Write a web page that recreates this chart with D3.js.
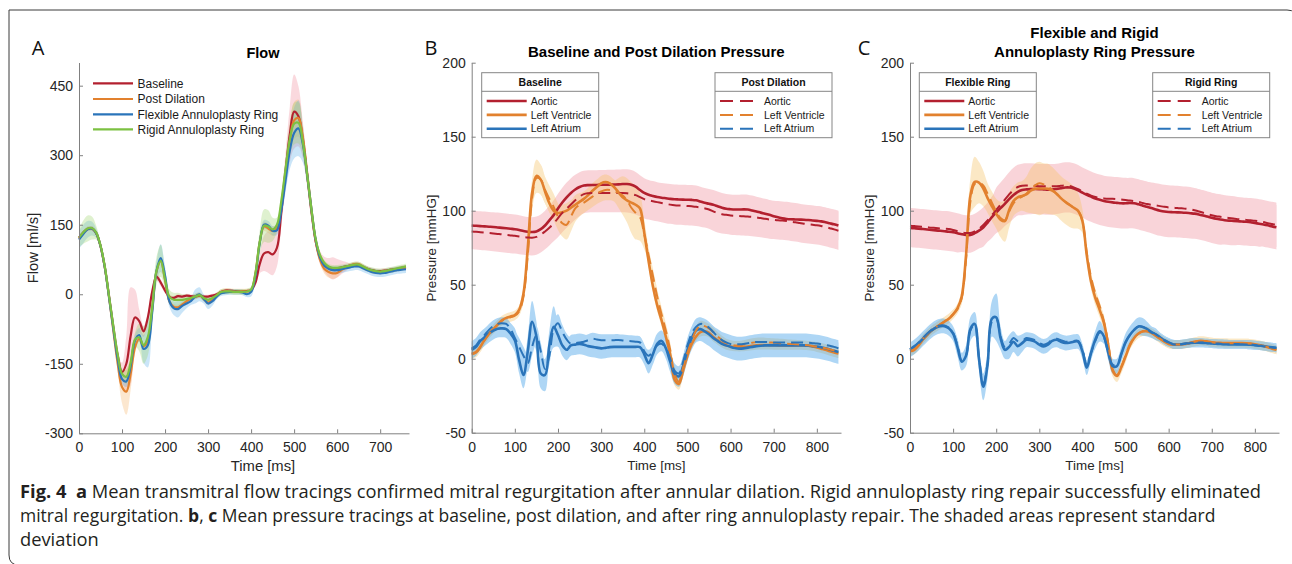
<!DOCTYPE html>
<html><head><meta charset="utf-8">
<script src="https://cdn.jsdelivr.net/npm/d3@7"></script>
<style>body{margin:0;background:#fff}svg{display:block}</style>
</head><body>
<script>
// ---------------- DATA ----------------
const flowTime = [0,10,20,30,40,50,60,70,80,90,100,110,120,130,140,150,160,170,180,190,200,210,220,230,240,250,260,270,280,290,300,310,320,330,340,350,360,370,380,390,400,410,420,430,440,450,460,470,480,490,500,510,520,530,540,550,560,570,580,590,600,610,620,630,640,650,660,670,680,690,700,710,720,730,740,750,760];
const pressTime = [0,10,20,30,40,50,60,70,80,90,100,110,120,130,140,150,160,170,180,190,200,210,220,230,240,250,260,270,280,290,300,310,320,330,340,350,360,370,380,390,400,410,420,430,440,450,460,470,480,490,500,510,520,530,540,550,560,570,580,590,600,610,620,630,640,650,660,670,680,690,700,710,720,730,740,750,760,770,780,790,800,810,820,830,840,850];

const flowXTicks = [0,100,200,300,400,500,600,700];
const flowYTicks = [-300,-150,0,150,300,450];
const pressXTicks = [0,100,200,300,400,500,600,700,800];
const pressYTicks = [-50,0,50,100,150,200];

const flowNames = ["Baseline","Post Dilation","Flexible Annuloplasty Ring","Rigid Annuloplasty Ring"];
const flowBaseline = [122,133,141,142,132,104,58,-5,-72,-132,
 -168,-150,-90,-50,-58,-80,-50,5,38,25,
 8,-5,-8,-4,-5,-3,-4,-5,-3,-5,
 -5,-3,0,5,8,8,7,6,6,7,
 9,25,65,88,91,86,100,175,265,345,
 394,384,335,260,180,115,80,65,58,56,
 56,58,60,62,64,62,58,55,52,50,
 50,51,52,54,55,57,58];
const flowPost = [120,132,141,142,132,104,58,-8,-80,-150,
 -200,-210,-172,-115,-96,-112,-100,-35,48,72,
 30,-15,-27,-28,-22,-15,-10,-5,-2,-10,
 -18,-12,-3,5,7,7,6,6,6,6,
 8,45,112,146,142,136,142,190,262,330,
 375,380,340,265,185,115,75,55,48,45,
 46,52,58,62,65,65,60,55,50,48,
 48,49,50,52,54,56,58];
const flowFlexible = [118,130,140,142,132,104,58,-8,-75,-140,
 -183,-188,-155,-100,-88,-118,-110,-40,50,78,
 40,-15,-30,-32,-25,-20,-15,-5,0,-10,
 -20,-15,-5,2,4,5,5,5,4,0,
 5,40,110,150,148,137,138,180,245,310,
 348,358,325,260,185,118,80,62,55,52,
 52,54,56,58,60,60,56,52,48,46,
 45,46,48,50,52,53,54];
const flowRigid = [122,134,142,143,133,105,60,-5,-70,-130,
 -172,-178,-148,-98,-93,-110,-92,-30,50,72,
 32,-5,-12,-12,-12,-10,-8,-5,-2,-8,
 -12,-8,-2,5,6,6,5,5,5,6,
 10,45,112,148,146,140,150,200,270,335,
 368,370,330,260,185,120,85,68,60,57,
 57,58,60,62,64,64,60,55,52,50,
 49,50,52,54,56,58,60];
const sdBaseline = [5,5,5,5,5,5,5,5,5,8,
 20,60,105,60,25,12,10,8,8,8,
 6,4,4,4,4,4,4,4,4,4,
 4,4,4,4,4,4,4,4,4,4,
 4,8,20,38,45,45,40,30,40,60,
 80,65,40,25,15,12,14,16,20,24,
 20,15,10,5,5,5,5,5,5,5,
 5,5,5,5,5,5,5];
const sdPost = [5,5,5,5,5,5,5,5,5,15,
 35,50,35,15,6,6,6,6,6,6,
 6,6,6,6,6,6,6,6,6,6,
 6,6,6,6,6,6,6,6,6,6,
 6,10,10,10,10,10,10,12,20,30,
 40,40,25,15,10,10,10,10,12,12,
 10,5,5,5,5,5,5,5,5,5,
 5,5,5,5,5,5,5];
const sdFlexible = [20,20,18,15,10,8,6,6,6,8,
 10,12,12,12,15,30,48,20,20,30,
 20,12,15,18,15,10,8,15,15,10,
 12,10,6,6,6,6,6,6,6,6,
 10,10,10,10,10,10,10,15,25,40,
 55,60,40,20,10,10,10,8,8,8,
 8,8,8,8,8,8,8,8,8,8,
 8,8,8,8,8,8,8];
const sdRigid = [20,25,28,25,15,8,6,6,6,6,
 10,15,15,15,30,40,40,25,30,35,
 20,15,15,15,12,10,6,6,6,6,
 6,6,6,6,6,6,6,6,6,6,
 6,15,25,35,35,25,15,15,20,35,
 45,45,30,15,6,6,6,6,6,6,
 6,6,6,6,6,6,6,6,6,6,
 6,6,6,6,6,6,6];

// Panel B: baseline (solid) and post dilation (dashed)
const baseAortic = [90,89.8,89.6,89.4,89.2,89,88.7,88.4,88.1,87.8,
 87.5,87,86.3,85.8,85.6,86,87.5,90,93.5,97,
 101.5,105.5,109,112,114.3,116,117,117.3,117.4,117.4,
 117.5,117.5,117.6,117.7,117.8,118,118,117.5,116.2,114,
 112,110.8,110,109.3,108.8,108.4,108,107.7,107.6,107.5,
 107.4,107.3,107,106.2,105.3,104.7,104,103,102,101.3,
 101,100.8,100.8,100.9,100.8,100.2,99.5,98.7,98,97.2,
 96.3,95.5,94.8,94.4,94.2,94.1,94,93.9,93.7,93.4,
 93.1,92.8,92.2,91.5,90.8,90];
const baseLV = [3.4,4.5,8,13,17,20,23,26,27.5,28.5,
 29.5,33,44,75,112,123.5,121,113,105,100,
 98.5,99,100,102,104,106,108,110.5,113.5,116,
 118.5,119.4,118.5,116,112.5,109,107,105.5,104,101.5,
 85,66,49,36,26,15,3,-14,-17,-8,
 2,10,15,18,18.5,17.5,14.6,12.5,10.5,9,
 8.3,8,7.9,8,8.3,8.7,9,9.2,9.2,9.2,
 9.1,9,9,9,9,9,9,8.9,8.7,8.3,
 7.6,6.8,6,5,4.2,3.5];
const baseLA = [5.9,8,12,14.5,17,19,20.3,20.5,20,17,
 12.5,-1,-11,5,25,15,-10,-11,9,21.5,
 16,9,6,9,9.5,10,9.5,8.5,8,7.5,
 7,7.3,7.8,8,8,8,8,8,8,7.8,
 3,-3,3,10,12,7,-2,-10,-12,-5,
 6,14,19,20,18.5,16.5,14,12,10,9,
 8,7.2,6.8,7,7.5,8,8.5,8.8,9,9,
 9,9,9,9,9,9,9,9,8.8,8.5,
 8.2,7.7,7,6.2,5.3,4.5];
const postAortic = [86,85.8,85.5,85.2,84.9,84.6,84.3,84,83.6,83.3,
 83,82.6,82.2,81.9,81.8,82.3,83.8,86,88.5,91.3,
 95,98.5,101.5,104.2,107,109.5,111.2,111.8,112,112,
 112,112,112,112,112,112,111.8,111.3,110.5,109.2,
 107.8,107,106.4,105.8,105.2,104.6,104.1,103.7,103.5,103.4,
 103.2,103,102.6,102.2,101.6,100.8,99.5,98.3,97.6,97.2,
 96.8,96.6,96.4,96.2,96,95.8,95.4,95,94.5,94.1,
 93.8,93.5,93.3,93,92.6,92.2,91.7,91.2,90.8,90.5,
 90.2,89.7,89,88.2,87.4,86.5];
const postLV = [3,4,7.5,12.5,16.5,20,23,25.5,27,28,
 29,32,42,70,108,122,121,114,108,102.5,
 96,91.5,90.5,96,101.5,104,105.5,107.5,109.5,111.5,
 113,114,114,113.2,112,110.3,107,102,98.5,95.7,
 84,70,56,42,30,19,6,-10,-15.5,-6,
 4,12,19,22.5,22,20.5,18,15,12.5,10.5,
 9.5,9,9,9.5,10.2,10.8,11.2,11.3,11.2,11,
 10.8,10.6,10.4,10.2,10,9.8,9.6,9.3,9,8.6,
 8.2,7.6,7,6.3,5.6,5];
const postLA = [7,9,13,16,19.5,22,23.5,24,23.5,20,
 14,8,2,-3,8,16,5,-7,2,20,
 24,18,13,10,10.5,11,11.5,12.5,13.5,13,
 12.5,12.5,12.5,12.5,12.6,12.3,12,11.8,11.5,11,
 5,2,5,9,10,7,0,-8,-10,-2,
 9,17,21.5,23.5,23,21,18,15,12.5,11,
 10,9.8,9.8,10,10.5,11,11.3,11.3,11.3,11.2,
 11,11,11,11,11,11,11,11,10.8,10.5,
 10.2,9.8,9.3,8.7,8,7];
const baseAorticSd = [10,10,10,10,10,10,10,10,10,10,10,10,10,10,10,10,10,10,10,10,10,10,10,10,10,10,10,10,10,10,10,10,10,10,10,10,10,10,10,10,10,10,10,10,10,10,10,10,10,10,10,10,10,10,10,10,10,10,10,10,10,10,10,10,10,10,10,10,10,10,10,10,10,10,10,10,10,10,10,10,10,10,10,10,10,10];
const postAorticSd = [12,12,12,12,12,12,12,12,12,12,12,12,12,12,12,12,12,12,12,12,13,13,13,13,13,13,13,13,13,13,13,13,13,13,13,13,13,13,13,13,13,13,13,13,13,13,13,13,13,13,13,13,13,13,13,13,13,13,13,13,13,13,13,13,13,13,13,13,13,13,13,13,13,13,13,13,13,13,13,13,13,13,13,13,13,13];
const baseLVSd = [3,3,3,3,3,3,3,3,3,3,
 3,3,4,6,9,11,10,8,6,5,
 5,5,5,5,5,5,5,5,5,5,
 5,5,5,5,5,5,5,5,5,5,
 6,4,4,4,4,4,4,4,4,4,
 3,3,3,3,3,3,3,3,3,3,3,3,3,3,3,3,3,3,3,3,3,3,3,3,3,3,3,3,3,3,3,3,3,3,3,3];
const postLVSd = [3,3,3,3,3,3,3,3,3,3,
 3,3,4,6,8,10,10,9,9,9,
 9,9,10,10,9,8,7,7,7,7,
 7,7,7,7,10,13,15,17,18,16,
 10,5,5,5,5,5,5,5,5,4,
 3,3,3,3,3,3,3,3,3,3,3,3,3,3,3,3,3,3,3,3,3,3,3,3,3,3,3,3,3,3,3,3,3,3,3,3];
const baseLASd = [6,6,6,6,6,6,6,6,6,7,
 8,9,9,10,14,10,10,11,10,14,
 8,7,7,7,7,7,7,7,7,7,
 7,7,7,7,7,7,7,7,7,7,
 7,7,7,7,7,7,7,7,7,7,
 8,8,8,8,8,8,8,8,8,8,8,8,8,8,8,8,8,8,8,8,8,8,8,8,8,8,8,8,8,8,8,8,8,8,8,8];
const postLASd = [4,4,4,4,4,4,4,4,4,4,
 5,6,6,6,6,6,6,6,6,6,
 6,5,4,4,4,4,4,4,4,4,
 4,4,4,4,4,4,4,4,4,4,4,4,4,4,4,4,4,4,4,4,4,4,4,4,4,4,4,4,4,4,4,4,4,4,4,4,4,4,4,4,4,4,4,4,4,4,4,4,4,4,4,4,4,4,4,4];

// Panel C: flexible ring (solid) and rigid ring (dashed)
const flexAortic = [88.3,88.1,87.9,87.6,87.3,87,86.7,86.4,86.1,85.8,
 85.4,84.8,84.1,83.6,83.6,84.8,86.5,88.7,92,95.6,
 98.8,101.7,104.6,107.8,110.6,112.8,114,114.4,114.6,114.7,
 114.6,114.4,114.2,114.3,114.7,115.2,115.7,115.7,115,113.8,
 112.2,110.8,109.5,108.3,107.4,106.6,106,105.6,105.3,105,
 105,105.2,105,104.3,103.4,102.6,101.8,100.8,100,99.4,
 99.1,99,98.9,98.8,98.6,98.3,98,97.5,96.8,96,
 95.2,94.5,94,93.6,93.3,93.1,92.9,92.7,92.5,92.2,
 91.7,91.2,90.7,90.1,89.4,88.8];
const flexLV = [5,6,9,13,16,19,21,23,25,27,
 30,34,42,70,110,119.5,119,115,108.5,103,
 98,94,93,100.5,106.5,109,110,111,113.5,114.8,
 115,115,114.8,113.5,111.5,108.5,106,104,102,99.8,
 93,70,52,41,33,24,9,-8,-11.7,-6,
 1.5,9,14,17,18.5,18.6,17.5,15.6,13.5,11.5,
 10,9.6,9.6,9.7,10,10.7,11.4,12,12,11.6,
 11.1,10.8,10.7,10.6,10.5,10.5,10.5,10.5,10.4,10.2,
 9.8,9.3,8.6,7.8,6.8,6];
const flexLA = [6,8,10.5,13.5,16.5,19,21,22,22,20.5,
 17,8,-2,2,20,23.5,0,-19,-4,27,
 28,14,6,8,11.5,8.5,10.5,12.8,12.5,11.5,
 9.5,8.3,9.5,12,12.8,11.5,10.6,10.8,11.5,11.5,
 5,-6,4,13,18.5,15,4,-5,-5,3,
 11,16,19.5,21.8,21.5,20,18,16.5,14.5,12.5,
 11,9.8,9.6,9.8,10.2,10.6,10.8,10.8,10.7,10.5,
 10.3,10.1,9.9,9.8,9.7,9.7,9.7,9.7,9.6,9.4,
 9.1,8.8,8.5,8.1,7.7,7.3];
const rigidAortic = [89.8,89.6,89.4,89.1,88.8,88.5,88.3,88,87.8,87.6,
 87,86.2,85.4,84.9,85,86,87.8,90.3,93.5,97,
 100.5,104,107.5,111,114,116,116.8,117,117,116.8,
 116.6,116.5,116.5,116.5,116.6,116.8,117,116.7,115.8,114.5,
 113,111.5,110.2,109.2,108.6,108.3,108.1,108,107.8,107.5,
 107.2,106.9,106.5,105.9,105.2,104.5,104,103.6,103.1,102.6,
 102.2,102,101.8,101.6,101.3,101,100.3,99.5,98.6,97.7,
 96.9,96.3,95.9,95.5,95.1,94.7,94.3,94,93.8,93.5,
 93.2,92.8,92.3,91.6,91,90.4];
const rigidLV = [5.5,6.5,9.5,13.5,16.5,19.3,21.3,23.3,25.3,27.3,
 30,33.5,41,67,106,118,119,117,111.5,105.5,
 99.5,95,93.5,99.5,105,108,109.5,111.5,114.5,117,
 118.5,117.8,116.3,114,111.5,108.5,106,104,102,100,
 93,72,55,44,35.5,25,10,-7,-11,-5.5,
 2,9.5,14,17,18.3,18.5,17.5,15.6,13.5,11.5,
 10,9.6,9.6,9.7,10,10.7,11.4,12,12,11.6,
 11.1,10.8,10.7,10.6,10.5,10.5,10.5,10.5,10.4,10.2,
 9.8,9.3,8.6,7.8,6.8,6];
const rigidLA = [6.5,8.5,11,14,17,19.5,21.5,22.5,22.5,21,
 17.5,9,-1,2.5,19,23,1,-17,-3,25,
 27,15,8,10,14,12,12,14,13.5,12.5,
 10.5,9.5,10.5,13,13.5,12.5,11.5,11.5,12,12,
 6,-4,4,12,17.5,14,4,-4,-4.5,3,
 11,16,19.5,21.8,21.5,20,18,16.5,14.5,12.5,
 11,9.8,9.6,9.8,10.2,10.6,10.8,10.8,10.7,10.5,
 10.3,10.1,9.9,9.8,9.7,9.7,9.7,9.7,9.6,9.4,
 9.1,8.8,8.5,8.1,7.7,7.3];
const flexAorticSd = [13,13,13,13,13,13,13,13,13,13,
 13,13,12,12,12,12,12,13,13,14,
 14,15,15,16,16,16,17,17,17,17,
 17,17,17,17,17,17,17,17,17,17,
 17,17,17,17,17,17,17,17,17,17,
 17,17,17,17,17,17,17,17,17,17,
 17,17,17,17,17,17,17,17,17,17,
 17,17,17,16.5,16.5,16.5,16,16,16,16,
 15.5,15.5,15,15,15,15];
const rigidAorticSd = [12,12,12,12,12,12,12,12,12,12,12,12,12,12,12,12,12,12,12,12,15,15,15,15,15,15,15,15,15,15,15,15,15,15,15,15,15,15,15,15,15,15,15,15,15,15,15,15,15,15,15,15,15,15,15,15,15,15,15,15,15,15,15,15,15,15,15,15,15,15,15,15,15,15,15,15,15,15,15,15,15,15,15,15,15,15];
const flexLVSd = [3,3,3,3,3,3,3,3,3,3,
 3,3,5,8,12,17,14,12,10,10,
 10,12,14,12,10,10,10,12,15,17,
 18,17,17,16,15,15,15,15,14,12,
 8,5,5,5,5,5,5,4,4,4,
 4,3,3,3,3,3,3,3,3,3,3,3,3,3,3,3,3,3,3,3,3,3,3,3,3,3,3,3,3,3,3,3,3,3,3,3];
const rigidLVSd = [3,3,3,3,3,3,3,3,3,3,3,3,3,3,3,3,3,3,3,3,3,3,3,3,3,3,3,3,3,3,3,3,3,3,3,3,3,3,3,3,3,3,3,3,3,3,3,3,3,3,3,3,3,3,3,3,3,3,3,3,3,3,3,3,3,3,3,3,3,3,3,3,3,3,3,3,3,3,3,3,3,3,3,3,3,3];
const flexLASd = [5,5,5,5,5,5,5,5,5,5,
 5,6,6,7,8,8,8,9,9,12,
 16,8,6,8,7,7,6,5,5,5,
 5,5,5,5,5,5,5,5,5,5,
 5,5,5,6,7,5,5,5,5,5,
 6,6,6,6,6,5,4,4,3,3,
 3,3,3,3,3,3,3,3,3,3,3,3,3,3,3,3,3,3,3,3,3,3,3,3,3,3];
const rigidLASd = [3,3,3,3,3,3,3,3,3,3,3,3,3,3,3,3,3,3,3,3,3,3,3,3,3,3,3,3,3,3,3,3,3,3,3,3,3,3,3,3,3,3,3,3,3,3,3,3,3,3,3,3,3,3,3,3,3,3,3,3,3,3,3,3,3,3,3,3,3,3,3,3,3,3,3,3,3,3,3,3,3,3,3,3,3,3];

const pressureNames = ["Aortic","Left Ventricle","Left Atrium"];

// ---------------- STYLE ----------------
const RED = "#B3202F", ORANGE = "#E2812E", BLUE = "#2A74BA", GREEN = "#7CC142";
const AXIS = "#808080", TXT = "#262626";
const SANS = "'Liberation Sans', Arial, Helvetica, sans-serif";

const svg = d3.select("body").append("svg").attr("width", 1292).attr("height", 564);

// outer frame
svg.append("path")
  .attr("d", "M1297,20 Q1297,10 1287,10 L9,10 L9,555 Q9,565 19,565 L1300,565")
  .attr("fill", "none").attr("stroke", "#3a3a3a").attr("stroke-width", 1);

const curve = d3.curveCatmullRom.alpha(0.5);
function lineFor(x, y, t) { return d3.line().x((d, i) => x(t[i])).y(d => y(d)).curve(curve); }
function areaFor(x, y, t, m) {
  return d3.area().x((d, i) => x(t[i])).y0((d, i) => y(m[i] - d)).y1((d, i) => y(m[i] + d)).curve(curve);
}

function axes(g, x, y, xt, yt) {
  const fmt = d => String(d);
  const ax = g.append("g").attr("transform", `translate(0,${y.range()[0]})`)
    .call(d3.axisBottom(x).tickValues(xt).tickFormat(fmt).tickSizeInner(-4).tickSizeOuter(0).tickPadding(9));
  const ay = g.append("g").attr("transform", `translate(${x.range()[0]},0)`)
    .call(d3.axisLeft(y).tickValues(yt).tickFormat(fmt).tickSizeInner(-4).tickSizeOuter(0).tickPadding(6));
  [ax, ay].forEach(a => {
    a.select(".domain").attr("stroke", AXIS);
    a.selectAll(".tick line").attr("stroke", AXIS);
    a.selectAll(".tick text").attr("fill", TXT).attr("font-family", SANS).attr("font-size", 14);
  });
}

function label(g, txt, x, y, size, opts = {}) {
  const t = g.append("text").attr("x", x).attr("y", y).attr("font-family", opts.family || SANS)
    .attr("font-size", size).attr("fill", opts.fill || TXT).attr("text-anchor", opts.anchor || "middle")
    .attr("font-weight", opts.bold ? 700 : 400).text(txt);
  if (opts.rotate) t.attr("transform", `rotate(-90,${x},${y})`);
  if (opts.dy) t.attr("dy", opts.dy);
  return t;
}

// ---------------- PANEL A ----------------
{
  const g = svg.append("g");
  const x = d3.scaleLinear().domain([0, 767]).range([79, 409]);
  const y = d3.scaleLinear().domain([-300, 500]).range([433.3, 62.5]);
  const means = [flowBaseline, flowPost, flowFlexible, flowRigid];
  const sds = [sdBaseline, sdPost, sdFlexible, sdRigid];
  const bandFill = ["#F08A98", "#F7B36A", "#5AAEEA", "#9BD46A"];
  const cols = [RED, ORANGE, BLUE, GREEN];
  means.forEach((m, k) => {
    g.append("path").attr("d", areaFor(x, y, flowTime, m)(sds[k]))
      .attr("fill", bandFill[k]).attr("fill-opacity", 0.32);
  });
  means.forEach((m, k) => {
    g.append("path").attr("d", lineFor(x, y, flowTime)(m)).attr("fill", "none")
      .attr("stroke", cols[k]).attr("stroke-width", 2.2);
  });
  axes(g, x, y, flowXTicks, flowYTicks);
  label(g, "Flow", 263, 58, 14.5, { bold: true, fill: "#000" });
  label(g, "Time [ms]", 263, 466, 14.8, { dy: "0.35em" });
  label(g, "Flow [ml/s]", 33, 248, 14.8, { rotate: true, dy: "0.35em" });
  label(g, "A", 38, 55, 20, { family: "'Open Sans', sans-serif", fill: "#111" });
  const ly = [83.3, 99, 114.3, 129.3];
  flowNames.forEach((n, k) => {
    g.append("line").attr("x1", 93).attr("x2", 133).attr("y1", ly[k]).attr("y2", ly[k])
      .attr("stroke", cols[k]).attr("stroke-width", 2.2);
    label(g, n, 137.5, ly[k], 12, { anchor: "start", dy: "0.35em", fill: "#1a1a1a" });
  });
}

// ---------------- PANELS B, C ----------------
function legendBox(g, x0, title, dashed) {
  const w = 117, top = 72.7, h = 65;
  g.append("rect").attr("x", x0).attr("y", top).attr("width", w).attr("height", h)
    .attr("fill", "#fff").attr("stroke", "#858585").attr("stroke-width", 1);
  g.append("line").attr("x1", x0).attr("x2", x0 + w).attr("y1", top + 18.6).attr("y2", top + 18.6)
    .attr("stroke", "#858585").attr("stroke-width", 1);
  label(g, title, x0 + w / 2, top + 9.8, 10.5, { bold: true, dy: "0.35em", fill: "#111" });
  const cols = [RED, ORANGE, BLUE];
  const iy = [top + 28.3, top + 42.2, top + 56.1];
  pressureNames.forEach((n, k) => {
    const l = g.append("line").attr("x1", x0 + 5).attr("x2", x0 + 45).attr("y1", iy[k]).attr("y2", iy[k])
      .attr("stroke", cols[k]).attr("stroke-width", dashed ? 2 : 2.6);
    if (dashed) l.attr("stroke-dasharray", "13,7");
    label(g, n, x0 + 49, iy[k], 10.5, { anchor: "start", dy: "0.35em", fill: "#1a1a1a" });
  });
}

function pressurePanel(o) {
  const g = svg.append("g");
  const x = d3.scaleLinear().domain([0, 856]).range([o.x0, o.x1]);
  const y = d3.scaleLinear().domain([-50, 200]).range([432.7, 62.7]);
  const bandFill = [["#F08A98", 0.36], ["#F7C46A", 0.38], ["#3FA0E8", 0.42]];
  for (let k = 0; k < 3; k++) {
    const bg = g.append("g").attr("opacity", bandFill[k][1]);
    bg.append("path").attr("d", areaFor(x, y, pressTime, o.solid[k])(o.solidSd[k])).attr("fill", bandFill[k][0]);
    bg.append("path").attr("d", areaFor(x, y, pressTime, o.dashed[k])(o.dashedSd[k])).attr("fill", bandFill[k][0]);
  }
  const cols = [RED, ORANGE, BLUE];
  o.solid.forEach((m, k) => {
    g.append("path").attr("d", lineFor(x, y, pressTime)(m)).attr("fill", "none")
      .attr("stroke", cols[k]).attr("stroke-width", 2.6);
  });
  o.dashed.forEach((m, k) => {
    g.append("path").attr("d", lineFor(x, y, pressTime)(m)).attr("fill", "none")
      .attr("stroke", cols[k]).attr("stroke-width", 2).attr("stroke-dasharray", "12,6");
  });
  axes(g, x, y, pressXTicks, pressYTicks);
  const cx = (o.x0 + o.x1) / 2;
  o.title.forEach((t, i) => label(g, t, cx, o.titleY[i], 15, { bold: true, fill: "#000" }));
  label(g, "Time [ms]", cx, 465, 13.4, { dy: "0.35em" });
  label(g, "Pressure [mmHG]", o.ylabX, 248, 13.4, { rotate: true, dy: "0.35em" });
  label(g, o.letter, o.letterX, 55, 20, { family: "'Open Sans', sans-serif", fill: "#111" });
  legendBox(g, o.leg1, o.legTitles[0], false);
  legendBox(g, o.leg2, o.legTitles[1], true);
}

pressurePanel({
  x0: 471.7, x1: 841,
  solid: [baseAortic, baseLV, baseLA], dashed: [postAortic, postLV, postLA],
  solidSd: [baseAorticSd, baseLVSd, baseLASd], dashedSd: [postAorticSd, postLVSd, postLASd],
  title: ["Baseline and Post Dilation Pressure"], titleY: [57],
  ylabX: 431.7, letter: "B", letterX: 431,
  leg1: 481.7, leg2: 715, legTitles: ["Baseline", "Post Dilation"]
});
pressurePanel({
  x0: 910, x1: 1279,
  solid: [flexAortic, flexLV, flexLA], dashed: [rigidAortic, rigidLV, rigidLA],
  solidSd: [flexAorticSd, flexLVSd, flexLASd], dashedSd: [rigidAorticSd, rigidLVSd, rigidLASd],
  title: ["Flexible and Rigid", "Annuloplasty Ring Pressure"], titleY: [37.5, 56.5],
  ylabX: 869.3, letter: "C", letterX: 864,
  leg1: 919.3, leg2: 1152.7, legTitles: ["Flexible Ring", "Rigid Ring"]
});

// ---------------- CAPTION ----------------
const captionLines = [
  [["Fig. 4", 1], ["  a", 1], [" Mean transmitral flow tracings confirmed mitral regurgitation after annular dilation. Rigid annuloplasty ring repair successfully eliminated", 0]],
  [["mitral regurgitation. ", 0], ["b", 1], [", ", 0], ["c", 1], [" Mean pressure tracings at baseline, post dilation, and after ring annuloplasty repair. The shaded areas represent standard", 0]],
  [["deviation", 0]]
];
const capY = [498, 522, 546];
const capWidth = [1242, 1196, null];
const CAP_FONT = 18.5;
function capText(str, bold) {
  return svg.append("text").attr("x", 0).attr("y", 0)
    .attr("font-family", "'Open Sans', sans-serif").attr("font-size", CAP_FONT)
    .attr("font-weight", bold ? 700 : 400).attr("fill", "#231f20")
    .style("white-space", "pre").text(str);
}
function naturalWidth(parts) {
  let w = 0;
  parts.forEach(p => { const t = capText(p[0], p[1]); w += t.node().getComputedTextLength(); t.remove(); });
  return w;
}
const baseScale = capWidth[0] / naturalWidth(captionLines[0]);
captionLines.forEach((parts, li) => {
  const s = capWidth[li] ? capWidth[li] / naturalWidth(parts) : baseScale;
  let xpos = 20;
  parts.forEach(p => {
    const t = capText(p[0], p[1]);
    const w = t.node().getComputedTextLength();
    t.attr("transform", `translate(${xpos},${capY[li]}) scale(${s},1)`);
    xpos += w * s;
  });
});
</script>
</body></html>
